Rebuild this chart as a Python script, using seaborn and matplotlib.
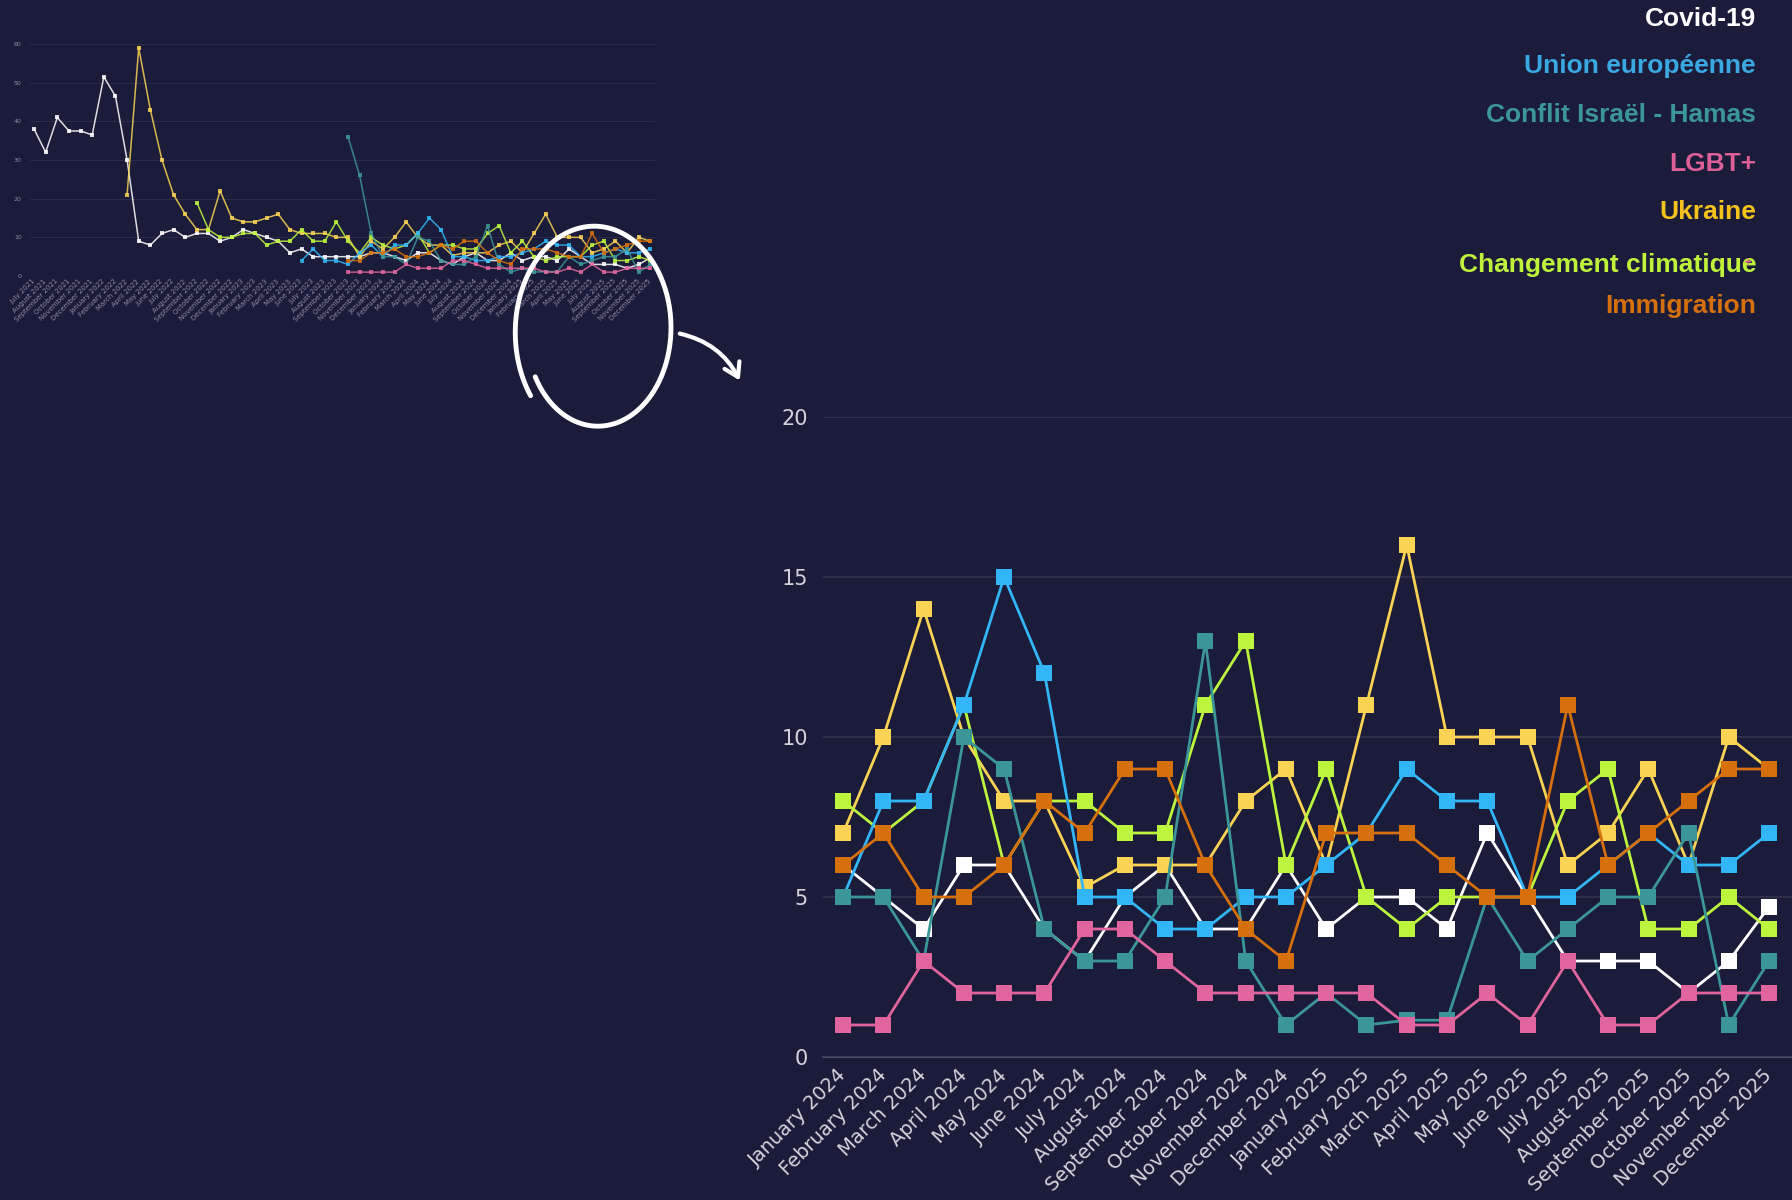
import numpy as np
import pandas as pd
import matplotlib
matplotlib.use("Agg")
import matplotlib.pyplot as plt
import seaborn as sns

# --- labels ---
MONTHS = ["January", "February", "March", "April", "May", "June", "July",
          "August", "September", "October", "November", "December"]
YEARS = [2021, 2022, 2023, 2024, 2025]
ALL_LABELS = [f"{m} {y}" for y in YEARS for m in MONTHS][6:]   # July 2021 -> December 2025
MAIN_LABELS = ALL_LABELS[-24:]                                  # January 2024 -> December 2025

SERIES = ["Covid-19", "Union européenne", "Conflit Israël - Hamas", "LGBT+",
          "Ukraine", "Changement climatique", "Immigration"]

# --- zoomed period: January 2024 -> December 2025 ---
covid = [6, 5, 4, 6, 6, 4, 3, 5, 6, 4, 4, 6, 4, 5, 5, 4, 7, 5, 3, 3, 3, 2, 3, 4.7]
union_eu = [5, 8, 8, 11, 15, 12, 5, 5, 4, 4, 5, 5, 6, 7, 9, 8, 8, 5, 5, 6, 7, 6, 6, 7]
israel = [5, 5, 3, 10, 9, 4, 3, 3, 5, 13, 3, 1, 2, 1, 1.15, 1.15, 5, 3, 4, 5, 5, 7, 1, 3]
lgbt = [1, 1, 3, 2, 2, 2, 4, 4, 3, 2, 2, 2, 2, 2, 1, 1, 2, 1, 3, 1, 1, 2, 2, 2]
ukraine = [7, 10, 14, 10, 8, 8, 5.3, 6, 6, 6, 8, 9, 6, 11, 16, 10, 10, 10, 6, 7, 9, 6, 10, 9]
climat = [8, 7, 8, 11, 6, 8, 8, 7, 7, 11, 13, 6, 9, 5, 4, 5, 5, 5, 8, 9, 4, 4, 5, 4]
immigration = [6, 7, 5, 5, 6, 8, 7, 9, 9, 6, 4, 3, 7, 7, 7, 6, 5, 5, 11, 6, 7, 8, 9, 9]

# --- earlier history: July 2021 -> December 2023 (None = not tracked yet) ---
covid_hist = [38, 32, 41, 37.5, 37.5, 36.5, 51.5, 46.5, 30, 9, 8, 11, 12, 10, 11,
              11, 9, 10, 12, 11, 10, 9, 6, 7, 5, 5, 5, 5, 5, 6]
union_eu_hist = [None] * 23 + [4, 7, 4, 4, 3, 6, 8]
israel_hist = [None] * 27 + [36, 26, 11]
lgbt_hist = [None] * 27 + [1, 1, 1]
ukraine_hist = [None] * 8 + [21, 59, 43, 30, 21, 16, 12, 12, 22, 15, 14, 14, 15,
                             16, 12, 11, 11, 11, 10, 10, 5, 9]
climat_hist = [None] * 14 + [19, 12, 10, 10, 11, 11, 8, 9, 9, 12, 9, 9, 14, 9, 6, 10]
immigration_hist = [None] * 27 + [4, 4, 6]

main_values = dict(zip(SERIES, [covid, union_eu, israel, lgbt, ukraine, climat, immigration]))
hist_values = dict(zip(SERIES, [covid_hist, union_eu_hist, israel_hist, lgbt_hist,
                                ukraine_hist, climat_hist, immigration_hist]))
full_values = {k: hist_values[k] + main_values[k] for k in SERIES}

COLORS = {
    "Covid-19": "#ffffff",
    "Union européenne": "#33b6f7",
    "Conflit Israël - Hamas": "#3b9797",
    "LGBT+": "#e0659e",
    "Ukraine": "#fbd354",
    "Changement climatique": "#bdf53e",
    "Immigration": "#d6700c",
}
TEXT_COLORS = {
    "Covid-19": "#ffffff",
    "Union européenne": "#3aa8e2",
    "Conflit Israël - Hamas": "#3b9797",
    "LGBT+": "#de5f98",
    "Ukraine": "#f4c21c",
    "Changement climatique": "#c0f23c",
    "Immigration": "#d6700c",
}
# later = drawn on top
DRAW_ORDER = ["Covid-19", "Ukraine", "Changement climatique", "Union européenne",
              "Conflit Israël - Hamas", "LGBT+", "Immigration"]


def to_long(values, labels):
    rows = []
    for name, vals in values.items():
        for i, v in enumerate(vals):
            if v is not None:
                rows.append((i, labels[i], name, v))
    return pd.DataFrame(rows, columns=["pos", "mois", "sujet", "mentions"])


df_main = to_long(main_values, MAIN_LABELS)
df_full = to_long(full_values, ALL_LABELS)

BG = "#1b1b3a"
sns.set_theme(style="dark", rc={"figure.facecolor": BG, "axes.facecolor": BG})
plt.rcParams["font.family"] = ["DejaVu Sans"]

W, H = 1792, 1200
fig = plt.figure(figsize=(17.92, 12), dpi=100)
fig.patch.set_facecolor(BG)

# ---------------- main chart ----------------
ax = fig.add_axes([823 / W, 1 - 1057 / H, (W - 823) / W, (1057 - 417) / H])
sns.lineplot(data=df_main, x="pos", y="mentions", hue="sujet", hue_order=DRAW_ORDER,
             palette=COLORS, marker="s", markersize=12, markeredgewidth=0,
             linewidth=2.0, errorbar=None, legend=False, ax=ax)
ax.set_xlim(-0.5, 23.57)
ax.set_ylim(0, 20)
ax.set_yticks([0, 5, 10, 15, 20])
ax.set_xticks(range(len(MAIN_LABELS)))
ax.set_xticklabels(MAIN_LABELS, rotation=45, ha="right", va="center",
                   rotation_mode="anchor", fontsize=14, color="#d4d4de")
ax.tick_params(axis="y", labelsize=15, labelcolor="#d4d4de", length=0, pad=11)
ax.tick_params(axis="x", length=0, pad=11)
ax.set_xlabel("")
ax.set_ylabel("")
ax.grid(axis="y", color="#34344f", linewidth=1.2)
ax.grid(axis="x", visible=False)
ax.axhline(0, color="#4d4d68", linewidth=1.5, zorder=0.5)
for s in ax.spines.values():
    s.set_visible(False)
for ln in ax.lines:
    ln.set_clip_on(False)

# ---------------- inset: full history ----------------
ax2 = fig.add_axes([30 / W, 1 - 276 / H, 625 / W, (276 - 44) / H])
sns.lineplot(data=df_full, x="pos", y="mentions", hue="sujet", hue_order=DRAW_ORDER,
             palette=COLORS, marker="s", markersize=3, markeredgewidth=0,
             linewidth=1.1, errorbar=None, legend=False, ax=ax2)
for ln in ax2.lines:
    ln.set_alpha(0.85)
ax2.set_xlim(-0.35, 53.4)
ax2.set_ylim(0, 60)
ax2.set_yticks([0, 10, 20, 30, 40, 50, 60])
ax2.set_xticks(range(len(ALL_LABELS)))
ax2.set_xticklabels(ALL_LABELS, rotation=45, ha="right", va="center",
                    rotation_mode="anchor", fontsize=5, color="#8c8ca6")
ax2.tick_params(axis="y", labelsize=4.5, labelcolor="#8c8ca6", length=0, pad=6)
ax2.tick_params(axis="x", length=0, pad=3)
ax2.set_xlabel("")
ax2.set_ylabel("")
ax2.grid(axis="y", color="#2a2a4a", linewidth=0.8)
ax2.grid(axis="x", visible=False)
for s in ax2.spines.values():
    s.set_visible(False)

# ---------------- legend as coloured text ----------------
baselines = [26, 73, 122, 171, 219, 272, 313]
for name, yb in zip(SERIES, baselines):
    fig.text(1756 / W, 1 - yb / H, name, ha="right", va="baseline",
             color=TEXT_COLORS[name], fontsize=19, fontweight="bold",
             family=["Liberation Sans", "DejaVu Sans"])
fig.text(1748 / W, 1 - 262 / H, "+", ha="center", va="center",
         color=TEXT_COLORS["LGBT+"], fontsize=7, fontweight="bold")

# ---------------- hand-drawn circle + arrow ----------------
ov = fig.add_axes([0, 0, 1, 1], facecolor="none")
ov.set_xlim(0, W)
ov.set_ylim(H, 0)
ov.axis("off")
t = np.linspace(np.radians(143), np.radians(510), 300)
r = np.linspace(1.05, 0.9, t.size)
ov.plot(596 + 78 * r * np.cos(t), 330 + 104 * r * np.sin(t),
        color="white", linewidth=3.5, solid_capstyle="round")
ov.annotate("", xy=(741, 383), xytext=(677, 333),
            arrowprops=dict(arrowstyle="->,head_length=0.8,head_width=0.5",
                            connectionstyle="arc3,rad=-0.25",
                            color="white", linewidth=3))

fig.savefig("out.png", dpi=100, facecolor=BG)
